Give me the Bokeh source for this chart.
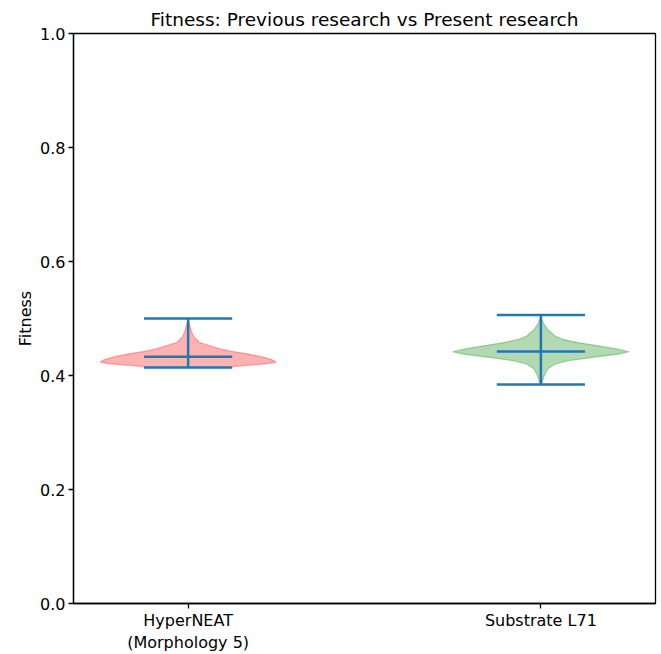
from bokeh.plotting import figure
from bokeh.models import Range1d, FixedTicker, PrintfTickFormatter, LinearAxis
from bokeh.embed import file_html
from bokeh.resources import INLINE

# ---- data ----
categories = ["HyperNEAT\n(Morphology 5)", "Substrate L71"]
positions = [1, 2]
fill_colors = ["red", "green"]

maxima = [0.500, 0.506]
minima = [0.414, 0.384]
means = [0.433, 0.442]

# violin outlines: fitness values and relative half-width (1 = widest)
red_vals = [0.5000, 0.4988, 0.4873, 0.4757, 0.4670, 0.4583, 0.4526, 0.4467, 0.4422,
            0.4380, 0.4335, 0.4283, 0.4236, 0.4207, 0.4179, 0.4161, 0.4140]
red_width = [0.0, 0.0, 0.02, 0.04, 0.07, 0.126, 0.24, 0.366, 0.50,
             0.67, 0.82, 0.94, 1.0, 0.90, 0.67, 0.53, 0.46]

green_vals = [0.5060, 0.5040, 0.4925, 0.4809, 0.4751, 0.4693, 0.4635, 0.4578, 0.4520,
              0.4462, 0.4416, 0.4375, 0.4317, 0.4259, 0.4201, 0.4115, 0.3998, 0.3854, 0.3840]
green_width = [0.0, 0.0, 0.026, 0.076, 0.12, 0.16, 0.25, 0.42, 0.65,
               0.875, 1.0, 0.875, 0.58, 0.31, 0.16, 0.076, 0.038, 0.01, 0.0]

violin_vals = [red_vals, green_vals]
violin_widths = [red_width, green_width]

y_ticks = [0.0, 0.2, 0.4, 0.6, 0.8, 1.0]

# ---- figure ----
p = figure(width=661, height=654, output_backend="svg", toolbar_location=None,
           x_range=Range1d(0.675, 2.325), y_range=Range1d(0, 1),
           title="Fitness: Previous research vs Present research",
           min_border_left=73, min_border_right=6, min_border_top=33, min_border_bottom=45)

p.title.align = "center"
p.title.text_font = "DejaVu Sans"
p.title.text_font_size = "18.5px"
p.title.text_font_style = "normal"
p.title.text_color = "black"
p.title.standoff = 7

p.grid.visible = False
p.outline_line_color = "black"
p.outline_line_alpha = 1.0
p.outline_line_width = 1.3

half = 0.25
for pos, vals, wid, col in zip(positions, violin_vals, violin_widths, fill_colors):
    xs = [pos + w * half for w in wid] + [pos - w * half for w in reversed(wid)]
    ys = list(vals) + list(reversed(vals))
    p.patch(xs, ys, fill_color=col, fill_alpha=0.3, line_color=col, line_alpha=0.3, line_width=1.2)

cap = 0.125
blue = "#1f77b4"
lw = 2.5
p.segment(x0=[x - cap for x in positions], x1=[x + cap for x in positions],
          y0=maxima, y1=maxima, line_color=blue, line_width=lw)
p.segment(x0=[x - cap for x in positions], x1=[x + cap for x in positions],
          y0=minima, y1=minima, line_color=blue, line_width=lw)
p.segment(x0=[x - cap for x in positions], x1=[x + cap for x in positions],
          y0=means, y1=means, line_color=blue, line_width=lw)
p.segment(x0=positions, x1=positions, y0=minima, y1=maxima, line_color=blue, line_width=lw)

# split multi-line category labels into lines
first_lines = {pos: lab.split("\n")[0] for pos, lab in zip(positions, categories)}
second_lines = {pos: lab.split("\n")[1] for pos, lab in zip(positions, categories) if "\n" in lab}

# axes
p.xaxis.ticker = FixedTicker(ticks=positions)
p.xaxis.major_label_overrides = first_lines
p.yaxis.ticker = FixedTicker(ticks=y_ticks)
p.yaxis.formatter = PrintfTickFormatter(format="%.1f")
p.yaxis.axis_label = "Fitness"

for ax in (p.xaxis, p.yaxis):
    ax.major_label_text_font = "DejaVu Sans"
    ax.major_label_text_font_size = "16px"
    ax.major_label_text_color = "black"
    ax.axis_label_text_font = "DejaVu Sans"
    ax.axis_label_text_font_size = "16px"
    ax.axis_label_text_font_style = "normal"
    ax.axis_label_text_color = "black"
    ax.axis_line_color = "black"
    ax.axis_line_width = 1.3
    ax.major_tick_line_color = "black"
    ax.major_tick_line_width = 1.3
    ax.major_tick_out = 5
    ax.major_tick_in = 0
    ax.minor_tick_line_color = None
    ax.major_label_standoff = 3
p.xaxis.major_label_standoff = 2
p.xaxis.major_label_text_line_height = 0.85
p.yaxis.axis_label_standoff = 2

# second line of the category labels
ax2 = LinearAxis(ticker=FixedTicker(ticks=list(second_lines.keys())),
                 major_label_overrides=second_lines,
                 axis_line_color=None, major_tick_line_color=None, minor_tick_line_color=None,
                 major_tick_out=0, major_tick_in=0, major_label_standoff=0,
                 axis_label_standoff=0,
                 major_label_text_font="DejaVu Sans", major_label_text_font_size="16px",
                 major_label_text_line_height=0.85,
                 major_label_text_color="black")
p.add_layout(ax2, "below")

open("out.html", "w").write(file_html(p, INLINE))
